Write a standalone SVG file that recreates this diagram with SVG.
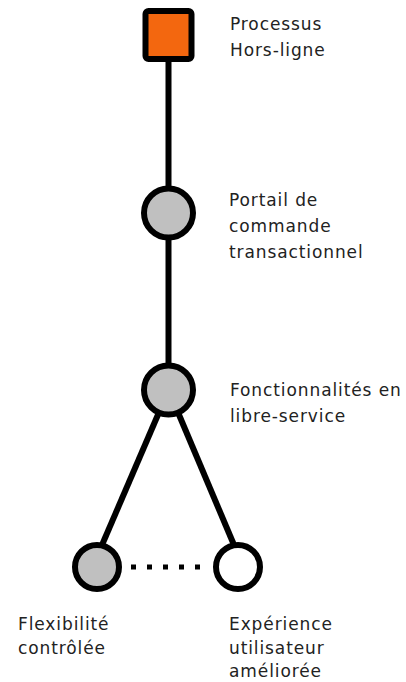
<svg xmlns="http://www.w3.org/2000/svg" width="406" height="682" viewBox="0 0 406 682">
<style>
.lbl{font-family:"DejaVu Sans","Open Sans",sans-serif;font-size:17px;fill:#222;letter-spacing:0.9px}
.edge{stroke:#000;stroke-width:6;fill:none}
.node{stroke:#000;stroke-width:6}
</style>
<rect width="406" height="682" fill="#fff"/>
<g id="connectors">
<line class="edge" x1="168.5" y1="58" x2="168.5" y2="188"/>
<line class="edge" x1="168.5" y1="238" x2="168.5" y2="366"/>
<line class="edge" x1="160" y1="410" x2="102" y2="545"/>
<line class="edge" x1="177" y1="410" x2="234" y2="545"/>
<line x1="128" y1="567" x2="208" y2="567" stroke="#000" stroke-width="5" stroke-dasharray="5 11" stroke-dashoffset="-3"/>
</g>
<g id="n1">
<rect class="node" x="145.5" y="11" width="46" height="48" rx="3" fill="#f3670f"/>
<text class="lbl" x="230" y="30">Processus</text>
<text class="lbl" x="230" y="56">Hors-ligne</text>
</g>
<g id="n2">
<circle class="node" cx="168.5" cy="213" r="24.5" fill="#c0c0c0"/>
<text class="lbl" x="229" y="206">Portail de</text>
<text class="lbl" x="229" y="232">commande</text>
<text class="lbl" x="229" y="258">transactionnel</text>
</g>
<g id="n3">
<circle class="node" cx="168.5" cy="390" r="24.5" fill="#c0c0c0"/>
<text class="lbl" x="230" y="396">Fonctionnalités en</text>
<text class="lbl" x="230" y="422">libre-service</text>
</g>
<g id="n4">
<circle class="node" cx="97" cy="567" r="22" fill="#c0c0c0"/>
<text class="lbl" x="18" y="630">Flexibilité</text>
<text class="lbl" x="18" y="654">contrôlée</text>
</g>
<g id="n5">
<circle class="node" cx="238" cy="567" r="22" fill="#fff"/>
<text class="lbl" x="229" y="630">Expérience</text>
<text class="lbl" x="229" y="654">utilisateur</text>
<text class="lbl" x="229" y="677">améliorée</text>
</g>
</svg>
